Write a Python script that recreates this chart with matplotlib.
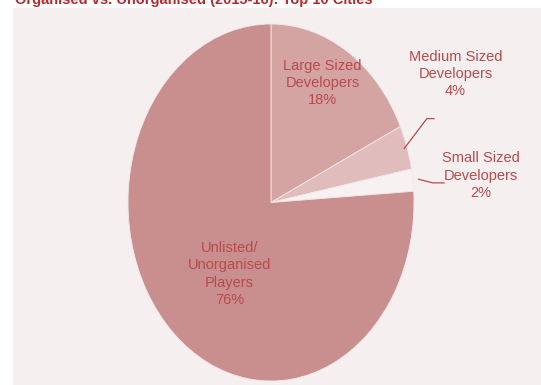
import numpy as np
from matplotlib import pyplot

pyplot.rcParams['font.family'] = ['Liberation Sans', 'DejaVu Sans']

# Data
labels = ['Large Sized\nDevelopers', 'Medium Sized\nDevelopers',
          'Small Sized\nDevelopers', 'Unlisted/\nUnorganised\nPlayers']
shares = [18, 4, 2, 76]
colors = ['#D4A4A3', '#E0BDBC', '#F8F1F1', '#C98F8E']
title = 'Organised vs. Unorganised (2015-16): Top 10 Cities'

text_color = '#B84A4C'
bg = '#F5EFEF'

fig = pyplot.figure(figsize=(5.41, 3.85), dpi=100)
fig.patch.set_facecolor('white')

# Panel background
panel = fig.add_axes([13/541, 0, 528/541, 377/385])
panel.set_facecolor(bg)
panel.set_xticks([])
panel.set_yticks([])
for s in panel.spines.values():
    s.set_visible(False)

# Title, cut off at top of the image
fig.text(15/541, 1.0, title, color='#B22B2E', fontsize=10.5, fontweight='bold',
         ha='left', va='center')

# Pie: stretched vertically (ellipse)
ax = fig.add_axes([128/541, 4/385, 286/541, 357/385])
ax.set_facecolor('none')
wedges, _ = ax.pie(shares, colors=colors, startangle=90, counterclock=False,
                   radius=1.0, wedgeprops=dict(edgecolor='#F3E8E8', linewidth=0.6))
ax.set_aspect('auto')
ax.set_xlim(-1, 1)
ax.set_ylim(-1, 1)
ax.axis('off')

kw = dict(color=text_color, fontsize=10.5, ha='center', va='center', linespacing=1.3)

# Inside labels
ax.text(0.36, 0.67, f'{labels[0]}\n{shares[0]}%', **kw)
ax.text(-0.29, -0.4, f'{labels[3]}\n{shares[3]}%', **kw)

# Outside labels with leader lines
ax.text(1.29, 0.72, f'{labels[1]}\n{shares[1]}%', **kw)
ax.text(1.47, 0.15, f'{labels[2]}\n{shares[2]}%', **kw)

w = wedges[1]
a = np.deg2rad((w.theta1 + w.theta2) / 2)
x0, y0 = np.cos(a) * 0.98, np.sin(a) * 0.98
ax.plot([x0, 1.09, 1.14], [y0, 0.47, 0.47], color=text_color, lw=0.9,
        clip_on=False)

w = wedges[2]
a = np.deg2rad((w.theta1 + w.theta2) / 2)
x0, y0 = np.cos(a) * 1.04, np.sin(a) * 1.04
ax.plot([x0, 1.13, 1.21], [y0, 0.11, 0.11], color=text_color, lw=0.9,
        clip_on=False)

fig.savefig('out.png', dpi=100, facecolor=fig.get_facecolor())
